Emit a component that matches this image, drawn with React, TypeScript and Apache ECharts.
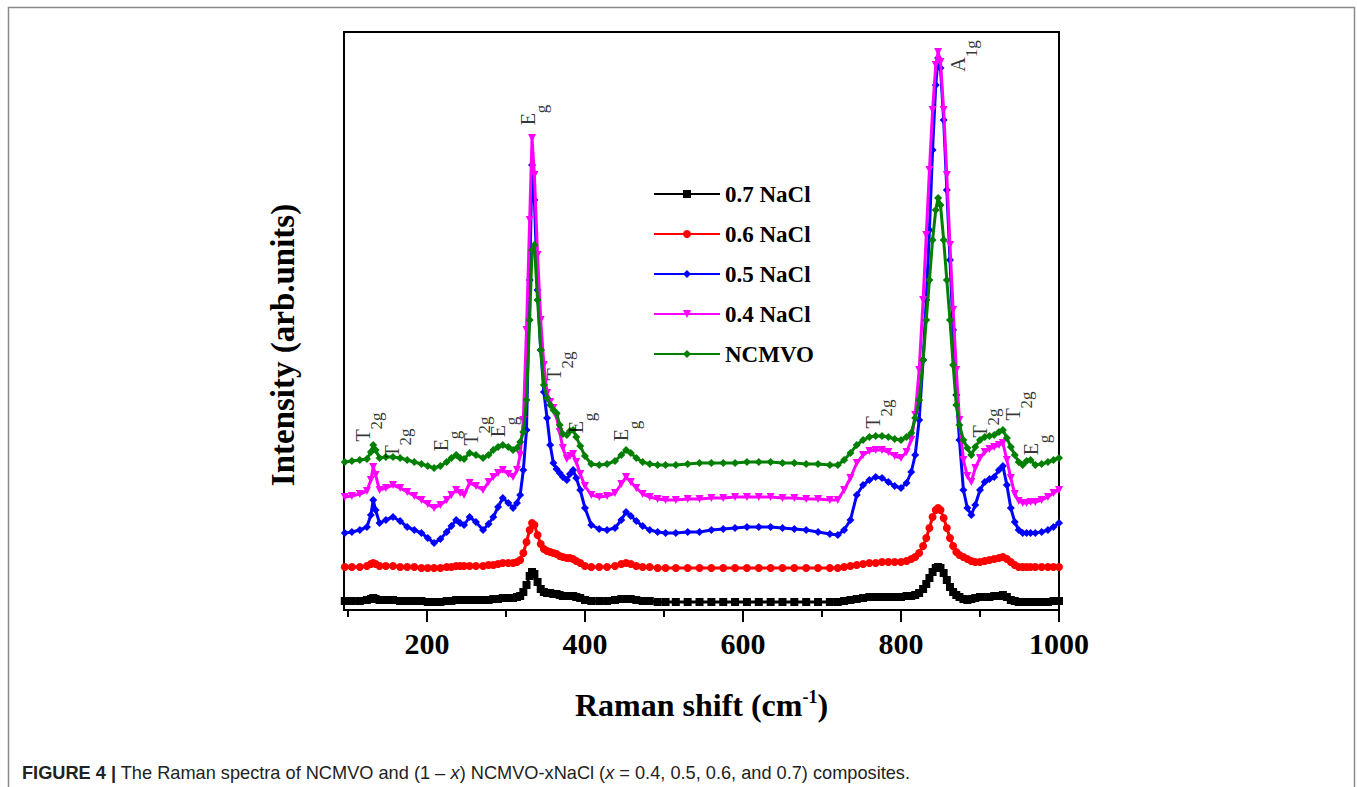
import React, { useEffect, useRef } from "react";
import * as echarts from "echarts";

// Raman shift (cm-1) sample positions shared by all spectra
const ramanShift = [
  96, 105, 115, 124, 129, 132, 135, 140, 148, 157, 166, 175, 184, 193, 201, 209, 217, 225, 231, 237,
  242, 247, 254, 262, 271, 278, 284, 290, 296, 303, 309, 314, 318, 322, 326, 330, 333, 336, 340, 344,
  348, 352, 356, 360, 364, 368, 372, 377, 381, 385, 389, 394, 400, 408, 418, 428, 438, 446, 452, 458,
  465, 473, 482, 492, 502, 515, 530, 545, 560, 575, 590, 605, 620, 635, 650, 665, 680, 695, 710, 720,
  728, 736, 744, 752, 760, 768, 776, 784, 792, 800, 807, 813, 818, 823, 828, 832, 836, 840, 844, 847,
  850, 854, 858, 862, 866, 870, 874, 879, 884, 889, 894, 900, 906, 912, 918, 924, 929, 934, 939, 944,
  949, 954, 959, 964, 970, 978, 986, 993, 1000,
];

const nacl07 = [
  9, 9, 9, 10, 11, 12, 11, 10, 10, 10, 9, 9, 9, 9, 8, 8, 8, 9, 9, 10,
  10, 10, 10, 10, 10, 10, 11, 11, 12, 12, 12, 13, 14, 18, 25, 34, 38, 36, 28, 21,
  18, 17, 17, 16, 16, 15, 14, 14, 14, 14, 13, 12, 10, 9, 9, 9, 10, 11, 11, 11,
  10, 9, 9, 8, 8, 8, 8, 8, 8, 8, 8, 8, 8, 8, 8, 8, 8, 8, 8, 8,
  9, 10, 11, 12, 13, 13, 13, 13, 13, 13, 14, 14, 15, 17, 21, 26, 32, 38, 42, 43,
  42, 37, 30, 23, 18, 15, 13, 11, 10, 11, 12, 13, 13, 13, 14, 14, 15, 13, 10, 9,
  8, 8, 8, 8, 8, 8, 8, 9, 9,
];

const nacl06 = [
  43, 43, 43, 44, 46, 47, 46, 44, 44, 44, 43, 43, 43, 42, 42, 42, 42, 43, 43, 44,
  44, 44, 44, 44, 44, 45, 45, 46, 47, 47, 47, 48, 50, 57, 68, 80, 87, 85, 75, 66,
  61, 59, 58, 57, 56, 54, 53, 52, 52, 51, 49, 47, 44, 43, 43, 43, 44, 46, 47, 46,
  44, 43, 43, 42, 42, 42, 42, 42, 42, 42, 42, 42, 42, 42, 42, 42, 42, 42, 42, 42,
  43, 44, 45, 46, 47, 47, 48, 48, 48, 48, 49, 51, 53, 57, 64, 72, 82, 93, 100, 102,
  100, 92, 82, 72, 64, 58, 55, 53, 51, 49, 48, 48, 49, 50, 51, 52, 53, 51, 48, 45,
  43, 43, 43, 43, 43, 43, 43, 43, 43,
];

const nacl05 = [
  77, 78, 80, 83, 95, 110, 100, 87, 90, 93, 89, 83, 80, 77, 72, 67, 71, 78, 84, 90,
  87, 85, 93, 88, 80, 86, 93, 103, 112, 107, 102, 107, 115, 140, 180, 330, 445, 410, 320, 260,
  218, 192, 165, 147, 141, 137, 133, 130, 136, 140, 132, 120, 102, 85, 81, 80, 82, 90, 98, 94,
  89, 84, 80, 78, 77, 77, 78, 78, 80, 81, 82, 83, 83, 83, 82, 81, 80, 78, 76, 75,
  80, 90, 115, 125, 130, 133, 132, 128, 124, 122, 127, 138, 155, 190, 250, 310, 380, 460, 525, 552,
  542, 490, 420, 350, 280, 215, 170, 120, 102, 95, 105, 120, 128, 131, 133, 140, 144, 125, 102, 88,
  80, 77, 77, 77, 77, 78, 80, 83, 87,
];

const nacl04 = [
  113, 114, 116, 119, 130, 143, 135, 120, 122, 125, 122, 118, 114, 110, 106, 102, 105, 110, 115, 120,
  117, 115, 127, 124, 120, 128, 133, 137, 140, 136, 133, 140, 155, 190, 280, 390, 472, 435, 355, 290,
  245, 217, 208, 202, 193, 178, 162, 151, 154, 156, 148, 136, 124, 115, 113, 114, 117, 126, 133, 128,
  122, 116, 113, 111, 110, 110, 111, 111, 112, 112, 113, 113, 113, 113, 112, 112, 111, 111, 110, 110,
  120, 132, 147, 155, 159, 160, 160, 158, 154, 152, 158, 170, 195, 240, 310, 375, 440, 500, 545, 558,
  548, 500, 435, 365, 300, 240, 190, 150, 134, 128, 142, 152, 158, 161, 163, 165, 167, 150, 132, 116,
  109, 107, 107, 108, 108, 110, 113, 117, 120,
];

const ncmvo = [
  148, 149, 150, 151, 158, 165, 160, 152, 153, 153, 152, 150, 148, 146, 144, 142, 144, 148, 152, 155,
  152, 151, 157, 155, 152, 155, 160, 163, 165, 163, 160, 162, 168, 178, 210, 290, 360, 365, 310, 260,
  225, 212, 205, 200, 197, 185, 176, 175, 179, 180, 173, 164, 154, 146, 145, 146, 149, 155, 160, 157,
  152, 148, 146, 145, 145, 145, 146, 147, 147, 147, 147, 148, 148, 148, 147, 147, 146, 146, 145, 145,
  150, 157, 165, 170, 173, 174, 174, 173, 171, 170, 173, 177, 192, 210, 250, 290, 330, 370, 400, 412,
  405, 370, 330, 290, 245, 205, 185, 170, 162, 155, 163, 170, 173, 174, 175, 178, 180, 172, 163, 155,
  148, 145, 149, 150, 145, 146, 148, 150, 152,
];

const seriesNames = ["0.7 NaCl", "0.6 NaCl", "0.5 NaCl", "0.4 NaCl", "NCMVO"];
const seriesValues = [nacl07, nacl06, nacl05, nacl04, ncmvo];
const seriesColors = ["#000000", "#FF0000", "#0000FF", "#FF00FF", "#007F00"];
const seriesSymbols = ["rect", "circle", "diamond", "triangle", "diamond"];
const seriesSymbolRotate = [0, 0, 0, 180, 0];

const majorTicks = [200, 400, 600, 800, 1000];
const minorTicks = [100, 300, 500, 700, 900];

// Band assignments (Raman shift, intensity of label anchor)
const bandX = [119, 156, 218, 256, 290, 328, 361, 389, 446, 765, 872, 900, 942, 965];
const bandY = [183, 167, 169, 179, 183, 495, 244, 187, 179, 196, 554, 187, 204, 165];
const bandMain = ["T", "T", "E", "T", "E", "E", "T", "E", "E", "T", "A", "T", "T", "E"];
const bandSub = ["2g", "2g", "g", "2g", "g", "g", "2g", "g", "g", "2g", "1g", "2g", "2g", "g"];

const SERIF = '"Liberation Serif", "Times New Roman", serif';
const SANS = '"Liberation Sans", Arial, sans-serif';

export default function App() {
  const ref = useRef<HTMLDivElement>(null);

  useEffect(() => {
    const chart = echarts.init(ref.current!, null, { renderer: "svg" });

    const lineSeries = seriesNames.map((name, s) => ({
      name,
      type: "line",
      data: ramanShift.map((x, i) => [x, seriesValues[s][i]]),
      symbol: seriesSymbols[s],
      symbolRotate: seriesSymbolRotate[s],
      symbolSize: 8,
      showSymbol: true,
      showAllSymbol: true,
      color: seriesColors[s],
      lineStyle: { width: 3, color: seriesColors[s] },
      itemStyle: { color: seriesColors[s] },
      z: 2 + s,
      silent: true,
    }));

    const bandSeries = {
      name: "bands",
      type: "scatter",
      symbolSize: 1,
      itemStyle: { color: "transparent" },
      silent: true,
      z: 20,
      data: bandX.map((x, i) => ({
        value: [x, bandY[i]],
        label: { formatter: `{m|${bandMain[i]}}{s|${bandSub[i]}}` },
      })),
      label: {
        show: true,
        position: "inside",
        rotate: 90,
        rich: {
          m: { fontSize: 20, fontFamily: SERIF, color: "#000", lineHeight: 20 },
          s: { fontSize: 17, fontFamily: SERIF, color: "#000", lineHeight: 44, verticalAlign: "bottom" },
        },
      },
    };

    chart.setOption({
      animation: false,
      backgroundColor: "#ffffff",
      grid: {
        left: 344,
        right: 298,
        top: 32,
        bottom: 177,
        show: true,
        borderColor: "#000",
        borderWidth: 2,
        backgroundColor: "transparent",
      },
      legend: {
        data: seriesNames,
        orient: "vertical",
        left: 653,
        top: 182,
        padding: 0,
        itemWidth: 66,
        itemHeight: 10,
        itemGap: 16,
        selectedMode: false,
        textStyle: { fontSize: 23, fontWeight: "bold", fontFamily: SERIF, color: "#000", lineHeight: 24 },
      },
      xAxis: [
        {
          type: "value",
          min: 95,
          max: 1000,
          position: "bottom",
          axisLine: { show: true, onZero: false, lineStyle: { color: "#000", width: 2 } },
          axisTick: { show: true, length: 12, customValues: majorTicks, lineStyle: { color: "#000", width: 2 } },
          axisLabel: {
            customValues: majorTicks,
            formatter: (v: number) => String(v),
            fontSize: 30,
            fontWeight: "bold",
            fontFamily: SERIF,
            color: "#000",
            margin: 18,
          },
          splitLine: { show: false },
          name: "{a|Raman shift (cm}{s|-1}{a|)}",
          nameLocation: "middle",
          nameGap: 78,
          nameTextStyle: {
            rich: {
              a: { fontSize: 32, fontWeight: "bold", fontFamily: SERIF, color: "#000", lineHeight: 34 },
              s: { fontSize: 18, fontWeight: "bold", fontFamily: SERIF, color: "#000", verticalAlign: "top", lineHeight: 34 },
            },
          },
        },
        {
          type: "value",
          min: 95,
          max: 1000,
          position: "bottom",
          axisLine: { show: false, onZero: false },
          axisTick: { show: true, length: 7, customValues: minorTicks, lineStyle: { color: "#000", width: 2 } },
          axisLabel: { show: false },
          splitLine: { show: false },
        },
      ],
      yAxis: {
        type: "value",
        min: 0,
        max: 578,
        axisLine: { show: false },
        axisTick: { show: false },
        axisLabel: { show: false },
        splitLine: { show: false },
      },
      graphic: [
        {
          type: "rect",
          silent: true,
          z: -10,
          shape: { x: 8.5, y: 7.5, width: 1346, height: 820 },
          style: { fill: "none", stroke: "#8a8a8a", lineWidth: 1.5 },
        },
        {
          type: "text",
          silent: true,
          x: 283,
          y: 345,
          rotation: Math.PI / 2,
          style: {
            text: "Intensity (arb.units)",
            fontSize: 33,
            fontWeight: "bold",
            fontFamily: SERIF,
            fill: "#000",
            align: "center",
            verticalAlign: "middle",
          },
        },
        {
          type: "text",
          silent: true,
          x: 22,
          y: 773,
          style: {
            text:
              "{b|FIGURE 4 |}{n| The Raman spectra of NCMVO and (1 – }{i|x}{n|) NCMVO-xNaCl (}{i|x}{n| = 0.4, 0.5, 0.6, and 0.7) composites.}",
            align: "left",
            verticalAlign: "middle",
            rich: {
              b: { fontSize: 18.2, fontWeight: "bold", fontFamily: SANS, fill: "#222" },
              n: { fontSize: 18.2, fontFamily: SANS, fill: "#222" },
              i: { fontSize: 18.2, fontStyle: "italic", fontFamily: SANS, fill: "#222" },
            },
          },
        },
      ],
      series: [...lineSeries, bandSeries],
    });

    return () => chart.dispose();
  }, []);

  return (
    <div
      ref={ref}
      style={{ position: "fixed", left: 0, top: 0, width: 1357, height: 787, background: "#fff" }}
    />
  );
}
